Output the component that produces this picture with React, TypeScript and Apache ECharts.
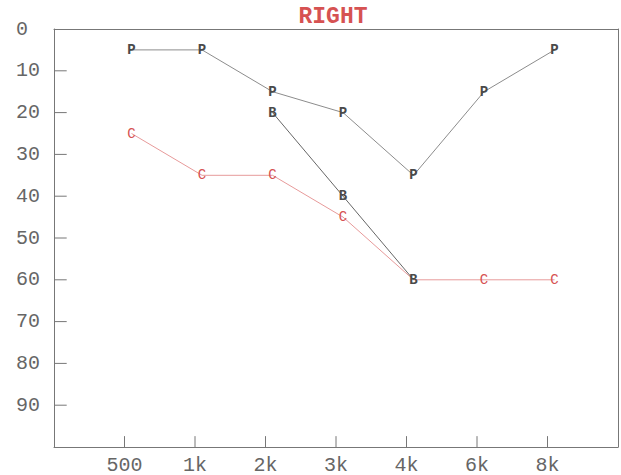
import React, { useEffect, useRef } from "react";
import * as echarts from "echarts";

const frequencies = ["500", "1k", "2k", "3k", "4k", "6k", "8k"];
const airP = [5, 5, 15, 20, 35, 15, 5];
const boneB: (number | null)[] = [null, null, 20, 40, 60, null, null];
const conductionC = [25, 35, 35, 45, 60, 60, 60];
const hiddenCAt = [4]; // 4k point shown as "B"
const yTickValues = [10, 20, 30, 40, 50, 60, 70, 80, 90];
const titleText = "RIGHT";

const MONO = "'Liberation Mono', 'DejaVu Sans Mono', monospace";
const AXIS = "#777";
const Y_MAX = 100;
const X_MAX = 8;
const X_TICK_LEN = 2.6; // in y units (~11px)
const Y_TICK_LEN = 0.18; // in x units (~13px)

function pts(vals: (number | null)[], hide: number[] = []) {
  const out: any[] = [];
  vals.forEach((v, i) => {
    if (v === null) return;
    if (hide.includes(i)) out.push({ value: [i + 1, v], label: { show: false } });
    else out.push([i + 1, v]);
  });
  return out;
}

function letterSeries(name: string, data: any[], lineColor: string, textColor: string, bold: boolean, letter: string) {
  return {
    name,
    type: "line",
    xAxisIndex: 1,
    data,
    symbol: "rect",
    symbolSize: 1,
    showSymbol: true,
    itemStyle: { color: "rgba(0,0,0,0)" },
    lineStyle: { color: lineColor, width: 1 },
    label: {
      show: true,
      position: "inside",
      formatter: () => letter,
      color: textColor,
      fontFamily: MONO,
      fontWeight: bold ? "bold" : "normal",
      fontSize: 14,
    },
    emphasis: { disabled: true },
    z: 3,
  };
}

function tickSeries(data: number[][]) {
  return {
    type: "line",
    xAxisIndex: 0,
    yAxisIndex: 0,
    data,
    symbol: "none",
    silent: true,
    lineStyle: { color: AXIS, width: 1 },
    emphasis: { disabled: true },
    z: 2,
  };
}

export default function App() {
  const ref = useRef<HTMLDivElement>(null);
  useEffect(() => {
    document.body.style.margin = "0";
    document.body.style.overflow = "hidden";
    const chart = echarts.init(ref.current!, null, { renderer: "svg" });
    const xTickSeries = frequencies.map((_, i) =>
      tickSeries([
        [i + 1, Y_MAX],
        [i + 1, Y_MAX - X_TICK_LEN],
      ])
    );
    const yTickSeries = yTickValues.map((v) =>
      tickSeries([
        [0, v],
        [Y_TICK_LEN, v],
      ])
    );
    chart.setOption({
      animation: false,
      backgroundColor: "#ffffff",
      grid: { left: 54, right: 3, top: 29, bottom: 26 },
      graphic: [
        {
          type: "text",
          x: 333,
          y: 17,
          style: {
            text: titleText,
            fill: "#d65252",
            font: `bold 23px ${MONO}`,
            textAlign: "center",
            textVerticalAlign: "middle",
          },
        },
      ],
      xAxis: [
        {
          type: "value",
          position: "bottom",
          min: 0,
          max: X_MAX,
          interval: 1,
          splitLine: { show: false },
          axisLine: { show: true, onZero: false, lineStyle: { color: AXIS, width: 1 } },
          axisTick: { show: false },
          axisLabel: {
            margin: 8,
            color: "#666",
            fontFamily: MONO,
            fontSize: 20,
            formatter: (v: number) => frequencies[v - 1] ?? "",
          },
        },
        {
          type: "value",
          position: "top",
          min: -0.1,
          max: X_MAX - 0.1,
          splitLine: { show: false },
          axisLine: { show: true, onZero: false, lineStyle: { color: AXIS, width: 1 } },
          axisTick: { show: false },
          axisLabel: { show: false },
        },
      ],
      yAxis: [
        {
          type: "value",
          inverse: true,
          min: 0,
          max: Y_MAX,
          interval: 10,
          splitLine: { show: false },
          axisLine: { show: true, onZero: false, lineStyle: { color: AXIS, width: 1 } },
          axisTick: { show: false },
          axisLabel: {
            align: "left",
            margin: 38,
            color: "#666",
            fontFamily: MONO,
            fontSize: 20,
            formatter: (v: number) => (v >= Y_MAX ? "" : String(v)),
          },
        },
        {
          type: "value",
          position: "right",
          inverse: true,
          min: 0,
          max: Y_MAX,
          splitLine: { show: false },
          axisLine: { show: true, onZero: false, lineStyle: { color: AXIS, width: 1 } },
          axisTick: { show: false },
          axisLabel: { show: false },
        },
      ],
      series: [
        ...xTickSeries,
        ...yTickSeries,
        letterSeries("C", pts(conductionC, hiddenCAt), "#e79a9a", "#d65252", false, "C"),
        letterSeries("P", pts(airP), "#8c8c8c", "#4a4a4a", true, "P"),
        letterSeries("B", pts(boneB), "#666666", "#4a4a4a", true, "B"),
      ],
    });
    return () => chart.dispose();
  }, []);
  return <div ref={ref} style={{ width: 621, height: 475 }} />;
}
